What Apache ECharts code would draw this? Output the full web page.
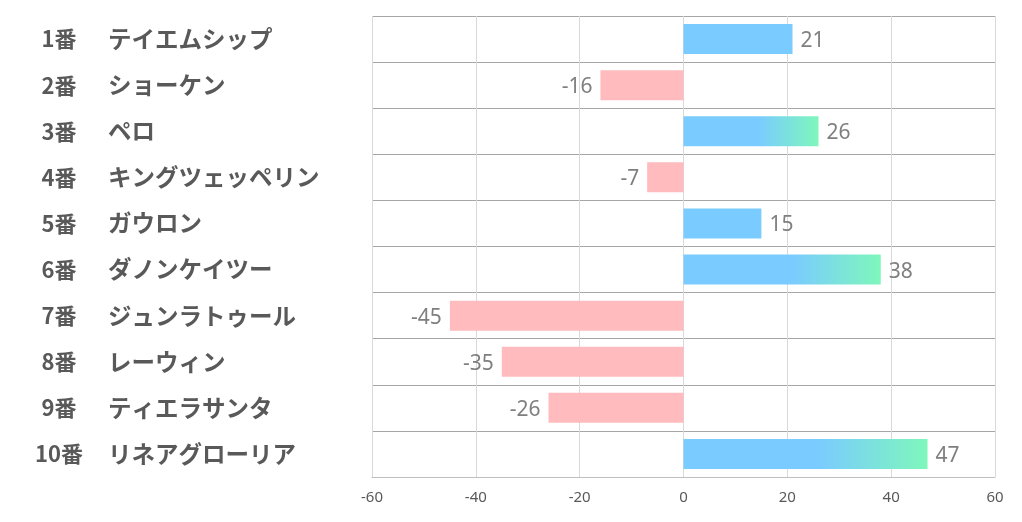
<!DOCTYPE html>
<html>
<head>
<meta charset="utf-8">
<script src="https://cdn.jsdelivr.net/npm/echarts@6/dist/echarts.min.js"></script>
<style>
html,body{margin:0;padding:0;background:#fff;}
#chart{width:1022px;height:522px;}
</style>
</head>
<body>
<div id="chart"></div>
<script>
const numbers = ['1番','2番','3番','4番','5番','6番','7番','8番','9番','10番'];
const names = ['テイエムシップ','ショーケン','ペロ','キングツェッペリン','ガウロン','ダノンケイツー','ジュンラトゥール','レーウィン','ティエラサンタ','リネアグローリア'];
const values = [21, -16, 26, -7, 15, 38, -45, -35, -26, 47];
const xTicks = [-60, -40, -20, 0, 20, 40, 60];

const BLUE = '#7ACBFF', GREEN = '#7EF7BC', PINK = '#FFBBBE';
const categories = numbers.map((n, i) => n + '\n' + names[i]);

const chart = echarts.init(document.getElementById('chart'));
const data = values.map(v => {
  let color;
  if (v < 0) color = PINK;
  else if (v > 25) color = new echarts.graphic.LinearGradient(0, 0, 1, 0, [
    {offset: 0, color: BLUE}, {offset: 0.55, color: BLUE}, {offset: 1, color: GREEN}]);
  else color = BLUE;
  return {
    value: v,
    itemStyle: {color: color},
    label: {position: v < 0 ? 'left' : 'right', distance: 8}
  };
});

chart.setOption({
  animation: false,
  backgroundColor: '#fff',
  grid: {left: 372, right: 27, top: 16, bottom: 45},
  xAxis: {
    type: 'value', min: xTicks[0], max: xTicks[xTicks.length - 1], interval: 20,
    axisLine: {show: true, lineStyle: {color: '#bfbfbf'}},
    axisTick: {show: false},
    splitLine: {show: true, lineStyle: {color: '#d9d9d9'}},
    axisLabel: {color: '#595959', fontSize: 15, margin: 13, fontFamily: 'Noto Sans'}
  },
  yAxis: {
    type: 'category', inverse: true, data: categories,
    axisLine: {show: false}, axisTick: {show: false},
    splitLine: {show: true, lineStyle: {color: '#a6a6a6'}},
    axisLabel: {
      align: 'left', margin: 345,
      formatter: function (val) {
        const p = val.split('\n');
        return '{a|' + p[0] + '}{b|' + p[1] + '}';
      },
      rich: {
        a: {width: 64, align: 'right', fontSize: 22, fontWeight: 'bold', color: '#595959', fontFamily: 'Noto Sans CJK JP'},
        b: {padding: [0, 0, 0, 17], fontSize: 23.5, fontWeight: 'bold', color: '#595959', fontFamily: 'Noto Sans CJK JP'}
      }
    }
  },
  series: [{
    type: 'bar', data: data, barWidth: 30,
    label: {show: true, color: '#7f7f7f', fontSize: 21, fontFamily: 'Noto Sans', offset: [0, 2]}
  }]
});
</script>
</body>
</html>
